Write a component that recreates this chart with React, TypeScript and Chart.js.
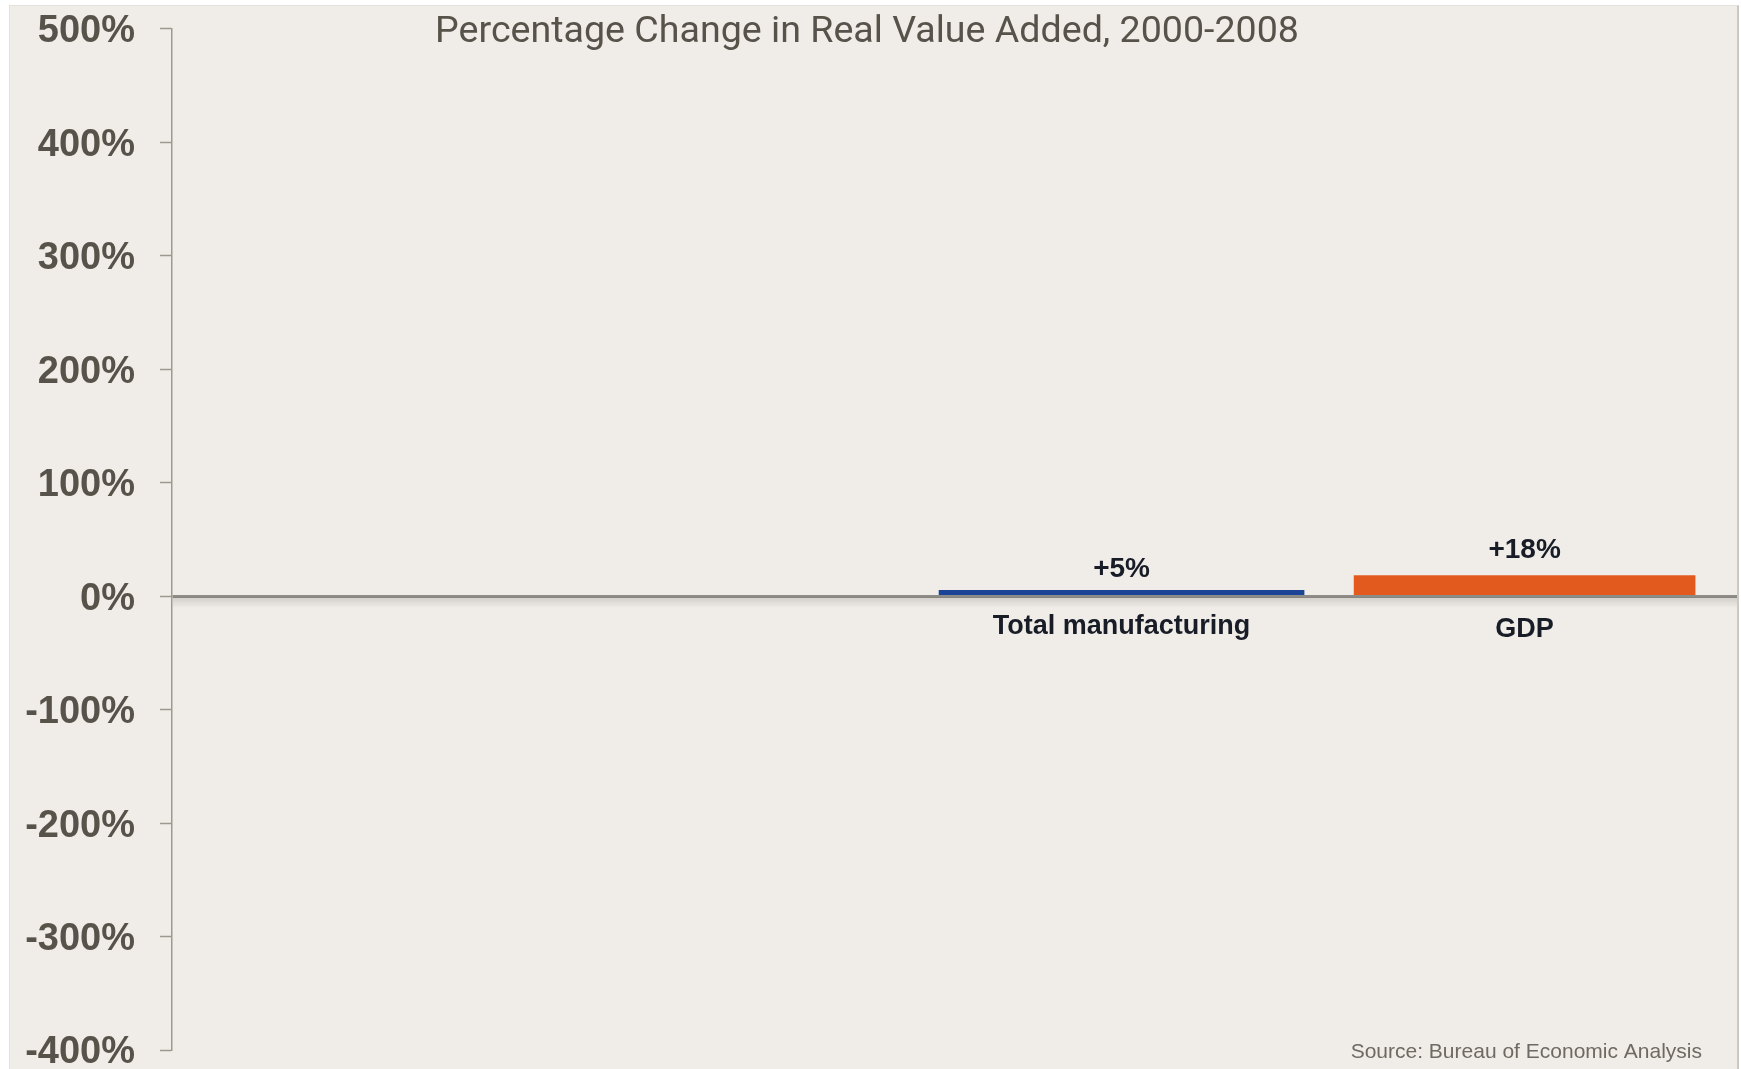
import React, { useEffect, useRef } from "react";
import { Chart, registerables } from "chart.js";

Chart.register(...registerables);

// ---- data ----
const TITLE = "Percentage Change in Real Value Added, 2000-2008";
const SOURCE = "Source: Bureau of Economic Analysis";
const categories = ["Total manufacturing", "GDP"];
const values = [5, 18];
const Y_MIN = -400;
const Y_MAX = 500;
const Y_STEP = 100;

// ---- styles ----
const barColors = ["#1b4497", "#e35a1f"];
const barWidths = [365, 341];
const LABEL_FONT = '"Liberation Sans", Arial, "DejaVu Sans", sans-serif';
const TICK_COLOR = "#57534a";
const DARK = "#181c27";

const annotate = {
  id: "annotate",
  beforeDatasetsDraw(chart: any) {
    const { ctx, chartArea, scales } = chart;
    const y0 = scales.y.getPixelForValue(0);
    const g = ctx.createLinearGradient(0, y0 + 1.5, 0, y0 + 12);
    g.addColorStop(0, "rgba(60,55,45,0.16)");
    g.addColorStop(1, "rgba(60,55,45,0)");
    ctx.save();
    ctx.fillStyle = g;
    ctx.fillRect(chartArea.left + 1, y0 + 1.5, chartArea.right - chartArea.left - 1, 10.5);
    ctx.restore();
  },
  afterDatasetsDraw(chart: any) {
    const { ctx, scales } = chart;
    const y0 = scales.y.getPixelForValue(0);
    ctx.save();
    ctx.fillStyle = DARK;
    ctx.textAlign = "center";
    ctx.textBaseline = "alphabetic";
    chart.data.datasets.forEach((ds: any, di: number) => {
      const meta = chart.getDatasetMeta(di);
      meta.data.forEach((bar: any, i: number) => {
        const v = ds.data[i].y;
        ctx.font = `bold 28px ${LABEL_FONT}`;
        ctx.fillText(`+${v}%`, bar.x, bar.y - 13 - di * 5);
        ctx.font = `bold 27px ${LABEL_FONT}`;
        ctx.fillText(ds.label, bar.x, y0 + 38 + di * 3);
      });
    });
    ctx.restore();
  },
  afterDraw(chart: any) {
    const { ctx } = chart;
    ctx.save();
    ctx.fillStyle = "#57534a";
    ctx.textAlign = "center";
    ctx.textBaseline = "alphabetic";
    ctx.font = '400 37.6px Roboto, "Liberation Sans", sans-serif';
    ctx.fillText(TITLE, 867, 42);
    ctx.fillStyle = "#6e6a62";
    ctx.textAlign = "right";
    ctx.font = `21px ${LABEL_FONT}`;
    ctx.fillText(SOURCE, 1702, 1058);
    ctx.restore();
  },
};

export default function App() {
  const ref = useRef<HTMLCanvasElement | null>(null);

  useEffect(() => {
    document.body.style.margin = "0";
    document.body.style.overflow = "hidden";
    const canvas = ref.current;
    if (!canvas) return;
    const chart = new Chart(canvas, {
      type: "bar",
      data: {
        datasets: categories.map((c, i) => ({
          label: c,
          data: [{ x: i, y: values[i] }],
          backgroundColor: barColors[i],
          borderWidth: 0,
          barThickness: barWidths[i],
          grouped: false,
        })),
      },
      options: {
        responsive: false,
        animation: false,
        events: [],
        layout: { padding: { left: 0, top: 28.7, right: 4, bottom: 19 } },
        plugins: {
          legend: { display: false },
          title: { display: false },
          tooltip: { enabled: false },
        },
        scales: {
          x: {
            type: "linear",
            display: false,
            offset: false,
            grid: { offset: false },
            min: -2.356,
            max: 1.527,
          },
          y: {
            min: Y_MIN,
            max: Y_MAX,
            afterFit(scale: any) {
              scale.width = 172;
              scale.paddingTop = 0;
              scale.paddingBottom = 0;
            },
            border: { display: true, color: "#9c998f", width: 1.5 },
            grid: {
              drawOnChartArea: true,
              color: (c: any) => (c.tick && c.tick.value === 0 ? "#8e8c87" : "rgba(0,0,0,0)"),
              lineWidth: (c: any) => (c.tick && c.tick.value === 0 ? 3 : 1),
              tickColor: "#9c998f",
              tickWidth: 1.5,
              tickLength: 12,
            },
            ticks: {
              stepSize: Y_STEP,
              padding: 25,
              labelOffset: 3,
              color: TICK_COLOR,
              font: { family: LABEL_FONT, size: 38, weight: "bold" },
              callback: (v: any) => `${v}%`,
            },
          },
        },
      },
      plugins: [annotate],
    } as any);
    return () => chart.destroy();
  }, []);

  return (
    <div style={{ position: "relative", width: 1741, height: 1069, background: "#ffffff", overflow: "hidden" }}>
      <div
        style={{
          position: "absolute",
          left: 9,
          top: 5,
          width: 1727,
          height: 1064,
          background: "#f0ede8",
          borderLeft: "1px solid #e4e1dc",
          borderTop: "1px solid #e4e1dc",
          borderRight: "2px solid #cbc8c2",
        }}
      />
      <canvas
        ref={ref}
        width={1741}
        height={1069}
        style={{ position: "absolute", left: 0, top: 0, width: 1741, height: 1069 }}
      />
    </div>
  );
}
